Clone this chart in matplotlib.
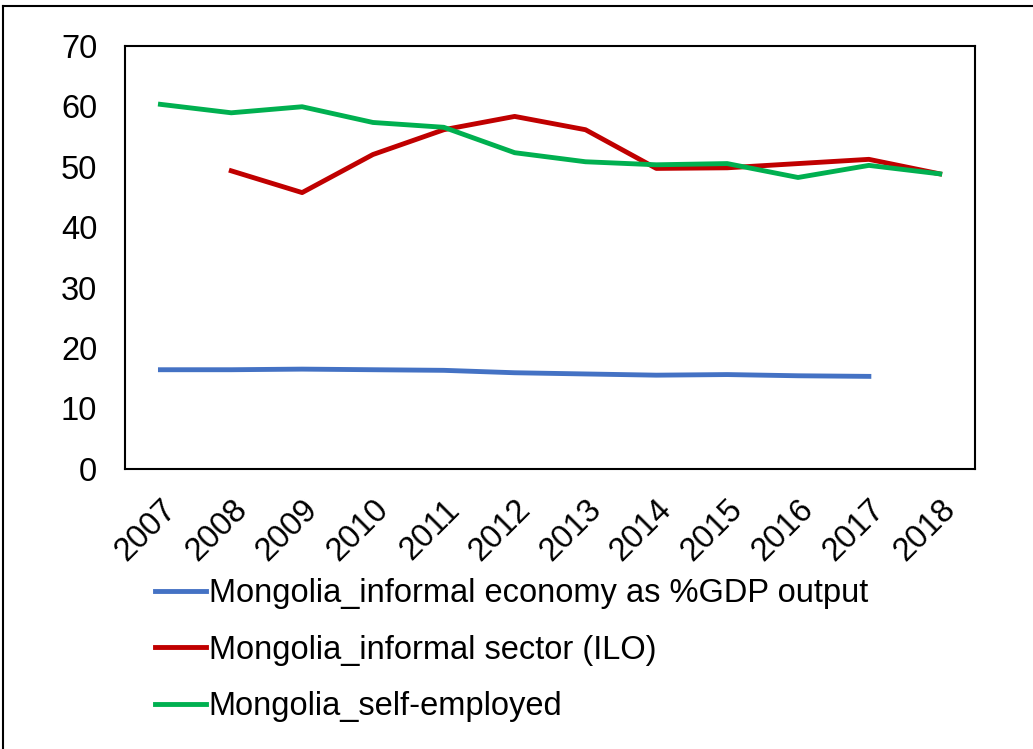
import matplotlib.pyplot as plt
import numpy as np

plt.rcParams['font.family'] = ['Liberation Sans', 'DejaVu Sans']

years = ['2007', '2008', '2009', '2010', '2011', '2012',
         '2013', '2014', '2015', '2016', '2017', '2018']

# informal economy as % of GDP (no value for 2018)
gdp_share = [16.4, 16.4, 16.5, 16.4, 16.3, 15.9, 15.7, 15.5, 15.6, 15.4, 15.3, np.nan]
# informal sector (ILO), starts 2008
ilo_sector = [np.nan, 49.3, 45.7, 52.0, 56.1, 58.3, 56.1, 49.7, 49.8, 50.5, 51.2, 48.8]
# self-employed
self_emp = [60.3, 58.9, 59.9, 57.3, 56.5, 52.3, 50.8, 50.3, 50.5, 48.2, 50.2, 48.8]

fig = plt.figure(figsize=(10.33, 7.49), dpi=100)
ax = fig.add_axes([0.121, 0.374, 0.823, 0.565])

x = np.arange(len(years))
ax.plot(x, gdp_share, color='#4472C4', lw=3.5, label='Mongolia_informal economy as %GDP output')
ax.plot(x, ilo_sector, color='#C00000', lw=3.5, label='Mongolia_informal sector (ILO)')
ax.plot(x, self_emp, color='#00B050', lw=3.5, label='Mongolia_self-employed')

ax.set_xlim(-0.5, len(years) - 0.5)
ax.set_ylim(0, 70)
ax.set_yticks(range(0, 71, 10))
ax.set_xticks(x)
ax.set_xticklabels(years, rotation=45, ha='right', va='top', rotation_mode='anchor')
ax.tick_params(axis='both', length=0, labelsize=23.5)
ax.tick_params(axis='x', pad=18)
ax.tick_params(axis='y', pad=20)
for s in ax.spines.values():
    s.set_linewidth(1.5)
    s.set_color('black')

fig.legend(loc='upper left', bbox_to_anchor=(0.15, 0.228), frameon=False,
           fontsize=23.5, handlelength=1.55, handletextpad=0.1, labelspacing=0.78,
           borderpad=0, borderaxespad=0)

# outer frame: top and left edges only
fig.add_artist(plt.Line2D([0.003, 1.0], [0.992, 0.992], transform=fig.transFigure, color='black', lw=1.5))
fig.add_artist(plt.Line2D([0.003, 0.003], [0.0, 0.992], transform=fig.transFigure, color='black', lw=1.5))

fig.savefig('out.png', dpi=100)
